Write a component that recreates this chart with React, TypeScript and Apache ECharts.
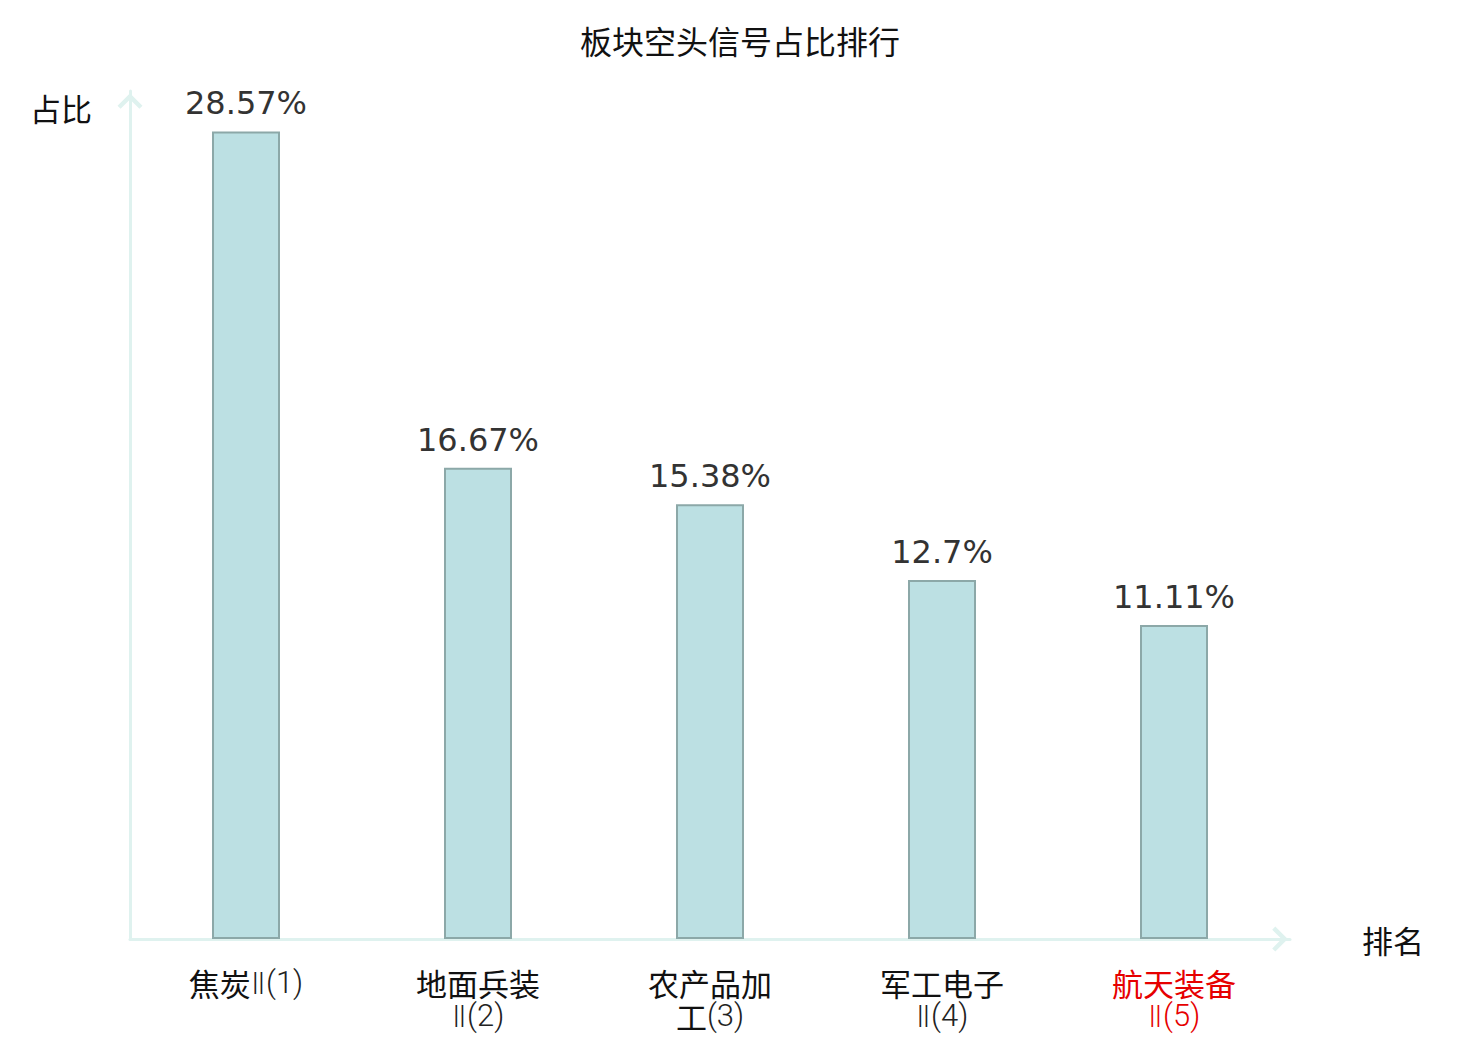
import React, { useEffect, useRef } from "react";
import * as echarts from "echarts";

const categories = ["焦炭Ⅱ(1)", "地面兵装Ⅱ(2)", "农产品加工(3)", "军工电子Ⅱ(4)", "航天装备Ⅱ(5)"];
const shares = [28.57, 16.67, 15.38, 12.7, 11.11];
const highlightIndex = 4;

const CJK = "'Noto Sans CJK SC', sans-serif";
const LATIN_LIGHT = "Roboto, 'Noto Sans CJK SC', sans-serif";
const ROMAN = "'DejaVu Sans', 'Noto Sans CJK SC', sans-serif";
const AXIS_COLOR = "#dff2ef";
const ARROW = "path://M12,0 L24,12 L21,15 L12,6 L3,15 L0,12 Z";

// split a label piece into rich-text runs: CJK (a), roman numeral (c), latin (b)
function runs(text: string, red: string): string {
  let out = "";
  let cur = "";
  let kind = "";
  const flush = () => {
    if (cur) out += `{${kind}${red}|${cur}}`;
    cur = "";
  };
  for (const ch of text) {
    const k = /[\u4e00-\u9fff]/.test(ch) ? "a" : /[\u2160-\u217f]/.test(ch) ? "c" : "b";
    if (k !== kind) {
      flush();
      kind = k;
    }
    cur += ch;
  }
  flush();
  return out;
}

export default function App() {
  const ref = useRef<HTMLDivElement>(null);
  useEffect(() => {
    document.body.style.margin = "0";
    const chart = echarts.init(ref.current!, undefined, { renderer: "svg" });
    const base = { fontSize: 31, lineHeight: 33 };
    chart.setOption({
      animation: false,
      backgroundColor: "#ffffff",
      title: {
        text: "板块空头信号占比排行",
        left: "center",
        top: 19,
        textStyle: { fontFamily: CJK, fontSize: 32, fontWeight: "normal", color: "#111" },
      },
      grid: { left: 130, right: 190, top: 91, bottom: 101 },
      xAxis: {
        type: "category",
        data: categories,
        name: "排名",
        nameGap: 72,
        nameTextStyle: { fontFamily: CJK, fontSize: 31, color: "#111" },
        axisLine: {
          lineStyle: { color: AXIS_COLOR, width: 3 },
          symbol: ["none", ARROW],
          symbolSize: [25, 21],
          symbolOffset: [0, -10],
        },
        axisTick: { show: false },
        axisLabel: {
          interval: 0,
          margin: 27,
          fontFamily: CJK,
          fontSize: 31,
          lineHeight: 33,
          color: "#111",
          formatter: (name: string, index: number) => {
            const red = index === highlightIndex ? "r" : "";
            if (name.length > 6) {
              return runs(name.slice(0, 4), red) + "\n" + runs(name.slice(4), red);
            }
            return runs(name, red);
          },
          rich: {
            a: { ...base, fontFamily: CJK, color: "#111" },
            b: { ...base, fontFamily: LATIN_LIGHT, fontWeight: 300, color: "#222" },
            c: { ...base, fontFamily: ROMAN, fontWeight: 200, color: "#222" },
            ar: { ...base, fontFamily: CJK, color: "#e60000" },
            br: { ...base, fontFamily: LATIN_LIGHT, fontWeight: 300, color: "#e60000" },
            cr: { ...base, fontFamily: ROMAN, fontWeight: 200, color: "#e60000" },
          },
        },
      },
      yAxis: {
        type: "value",
        min: 0,
        max: 30,
        name: "占比",
        nameLocation: "end",
        nameGap: 0,
        nameTextStyle: { fontFamily: CJK, fontSize: 31, color: "#111", align: "right", padding: [0, 38, -32, 0] },
        axisLine: {
          show: true,
          lineStyle: { color: AXIS_COLOR, width: 3 },
          symbol: ["none", ARROW],
          symbolSize: [25, 21],
          symbolOffset: [0, -10],
        },
        axisTick: { show: false },
        axisLabel: { show: false },
        splitLine: { show: false },
      },
      series: [
        {
          type: "bar",
          data: shares,
          barWidth: 68,
          itemStyle: { color: "#bce0e3", borderColor: "#8ca8a8", borderWidth: 2 },
          label: {
            show: true,
            position: "top",
            distance: 12,
            formatter: (p: any) => p.value + "%",
            fontFamily: "'DejaVu Sans', sans-serif",
            fontSize: 32,
            color: "#333",
          },
        },
      ],
    });
    return () => chart.dispose();
  }, []);
  return <div ref={ref} style={{ width: 1480, height: 1040 }} />;
}
